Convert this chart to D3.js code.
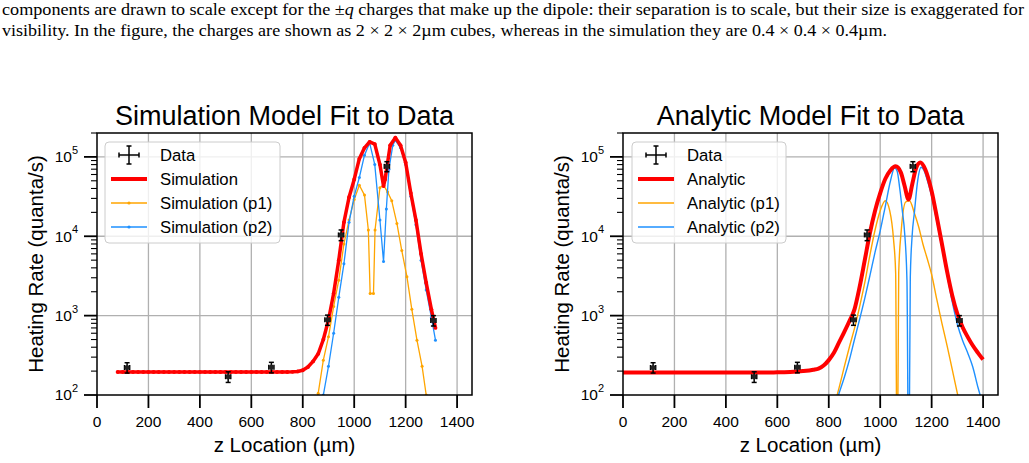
<!DOCTYPE html>
<html>
<head>
<meta charset="utf-8">
<script src="https://cdn.jsdelivr.net/npm/d3@7"></script>
<style>
    html, body { margin: 0; padding: 0; background: #fff; }
    svg { display: block; }
    text { font-family: "Liberation Sans", Arial, sans-serif; fill: #000; }
    .caption { font-family: "Liberation Serif", "Times New Roman", serif; font-size: 16.5px; }
</style>
</head>
<body>
<svg id="chart" width="1029" height="463"></svg>
<script>
// ticks
var xTicks = [0, 200, 400, 600, 800, 1000, 1200, 1400];
var yTickExps = [2, 3, 4, 5];

// measured data (same in both panels)
var dataZ = [117, 510, 678, 896, 949, 1127, 1308];
var dataRate = [222, 170, 224, 885, 10400, 76000, 870];
var dataZErr = [10, 10, 10, 10, 10, 10, 10];
var dataRateErr = [33, 26, 34, 130, 1600, 11000, 130];

// simulation model
var simZ = [80, 100, 120, 140, 160, 180, 200, 220, 240, 260, 280, 300, 320, 340, 360, 380, 400, 420, 440, 460,
    480, 500, 520, 540, 560, 580, 600, 620, 640, 660, 680, 700, 720, 740, 760, 780, 800, 820, 840, 860, 880, 900,
    920, 940, 960, 980, 1000, 1020, 1040, 1060, 1080, 1100, 1114, 1120, 1140, 1160, 1180, 1200, 1220, 1240, 1260,
    1280, 1300, 1316];
var simRate = [195, 195, 195, 195, 195, 195, 195, 195, 195, 195, 195, 195, 195, 195, 195, 195, 195, 195, 195, 195,
    195, 195, 195, 195, 195, 195, 195, 195, 195, 195, 195, 195, 195, 195, 196, 198, 205, 225, 265, 330, 500, 880,
    1900, 5000, 15000, 31000, 52000, 95000, 130000, 155000, 145000, 80000, 43000, 52000, 140000, 175000, 140000,
    85000, 35000, 16000, 6000, 2600, 1200, 700];

var simP1Z = [840, 860, 880, 900, 920, 940, 960, 980, 1000, 1020, 1040, 1055, 1062, 1075, 1081, 1100, 1114, 1130,
    1146, 1166, 1185, 1205, 1224, 1244, 1264, 1280, 1300];
var simP1Rate = [40, 105, 275, 540, 1300, 2800, 8000, 16000, 29000, 44000, 33000, 12000, 1900, 1900, 12000, 41000,
    44000, 36000, 28000, 14500, 6600, 3100, 1200, 490, 230, 100, 40];

var simP2Z = [860, 880, 900, 920, 940, 960, 980, 1000, 1020, 1040, 1060, 1080, 1100, 1114, 1125, 1135, 1150, 1160,
    1180, 1200, 1220, 1240, 1260, 1280, 1300, 1316];
var simP2Rate = [50, 100, 230, 600, 1700, 4500, 15000, 32000, 55000, 105000, 150000, 80000, 16000, 4800, 22000,
    70000, 140000, 162000, 130000, 80000, 32000, 14000, 5000, 2100, 950, 490];

// analytic model
var anaZ = [0, 100, 200, 300, 400, 500, 600, 650, 700, 740, 760, 780, 800, 820, 840, 860, 880, 900, 920, 940, 960,
    980, 1000, 1020, 1040, 1060, 1080, 1095, 1110, 1125, 1140, 1156, 1175, 1200, 1220, 1240, 1260, 1280, 1300, 1320,
    1340, 1360, 1380, 1400];
var anaRate = [192, 192, 192, 192, 192, 192, 193, 195, 200, 208, 215, 235, 275, 340, 460, 620, 850, 1200, 2300,
    5000, 11000, 21000, 35000, 53000, 68000, 76000, 64000, 43000, 29000, 46000, 73000, 85000, 70000, 37000, 17500,
    8000, 3600, 1800, 1050, 720, 540, 420, 340, 280];

var anaP1Z = [820, 840, 860, 880, 900, 920, 940, 960, 980, 1000, 1020, 1037, 1052, 1060, 1066, 1072, 1082, 1099,
    1114, 1133, 1150, 1166, 1183, 1200, 1220, 1240, 1260, 1280, 1300, 1320];
var anaP1Rate = [70, 123, 224, 400, 690, 1300, 2600, 5800, 12000, 21000, 28000, 21000, 9000, 3500, 5, 3500, 12000,
    27000, 28000, 19500, 13000, 8000, 5200, 3300, 1600, 800, 420, 210, 105, 55];

var anaP2Z = [820, 840, 860, 880, 900, 920, 940, 960, 980, 1000, 1020, 1040, 1056, 1066, 1076, 1086, 1095, 1104,
    1111, 1117, 1124, 1133, 1146, 1159, 1170, 1180, 1200, 1220, 1240, 1260, 1280, 1300, 1320, 1340, 1360, 1380, 1400];
var anaP2Rate = [65, 105, 165, 275, 500, 900, 1650, 3200, 6300, 11700, 24000, 50000, 73000, 66000, 40000, 21000,
    11000, 2800, 5, 3000, 10000, 20000, 51000, 74000, 68000, 55000, 32000, 15500, 7200, 3300, 1500, 780, 490, 340,
    225, 125, 75];

var RED = "#ff0000", ORANGE = "#ffa500", BLUE = "#1e90ff";
var TOP = 133, BOTTOM = 395;

var svg = d3.select("#chart");

function zip(zs, vs) {
    return zs.map(function (z, i) { return { z: z, v: vs[i] }; });
}

function drawCaption() {
    var line1 = svg.append("text").attr("class", "caption")
        .attr("x", 2).attr("y", 15)
        .attr("textLength", 1022).attr("lengthAdjust", "spacingAndGlyphs");
    line1.append("tspan").text("components are drawn to scale except for the \u00b1");
    line1.append("tspan").attr("font-style", "italic").text("q");
    line1.append("tspan").text(" charges that make up the dipole: their separation is to scale, but their size is exaggerated for");

    svg.append("text").attr("class", "caption")
        .attr("x", 2).attr("y", 36)
        .attr("textLength", 885).attr("lengthAdjust", "spacingAndGlyphs")
        .text("visibility. In the figure, the charges are shown as 2 \u00d7 2 \u00d7 2\u00b5m cubes, whereas in the simulation they are 0.4 \u00d7 0.4 \u00d7 0.4\u00b5m.");
}

function drawPanel(cfg) {
    var x = d3.scaleLinear().domain([0, 1458]).range([cfg.left, cfg.right]);
    var y = d3.scaleLog().domain([100, 2e5]).range([BOTTOM, TOP]);
    var g = svg.append("g");
    var cx = (cfg.left + cfg.right) / 2;

    // grid
    g.append("g").selectAll("line").data(xTicks.slice(1)).enter().append("line")
        .attr("x1", function (d) { return x(d); }).attr("x2", function (d) { return x(d); })
        .attr("y1", TOP).attr("y2", BOTTOM)
        .attr("stroke", "#b0b0b0").attr("stroke-width", 1.3);
    g.append("g").selectAll("line").data(yTickExps.slice(1)).enter().append("line")
        .attr("x1", cfg.left).attr("x2", cfg.right)
        .attr("y1", function (d) { return y(Math.pow(10, d)); })
        .attr("y2", function (d) { return y(Math.pow(10, d)); })
        .attr("stroke", "#b0b0b0").attr("stroke-width", 1.3);

    var clipId = "clip-" + cfg.name;
    svg.append("clipPath").attr("id", clipId).append("rect")
        .attr("x", cfg.left).attr("y", TOP)
        .attr("width", cfg.right - cfg.left).attr("height", BOTTOM - TOP);
    var plot = g.append("g").attr("clip-path", "url(#" + clipId + ")");

    var line = d3.line()
        .x(function (d) { return x(d.z); })
        .y(function (d) { return y(Math.max(d.v, 1)); })
        .curve(cfg.markers ? d3.curveLinear : d3.curveMonotoneX);

    // models: p1, p2 under the total
    cfg.series.forEach(function (s) {
        var pts = zip(s.z, s.v);
        plot.append("path").datum(pts)
            .attr("d", line)
            .attr("fill", "none")
            .attr("stroke", s.color)
            .attr("stroke-width", s.width)
            .attr("stroke-linejoin", "round");
        if (cfg.markers) {
            plot.append("g").selectAll("circle").data(pts).enter().append("circle")
                .attr("cx", function (d) { return x(d.z); })
                .attr("cy", function (d) { return y(Math.max(d.v, 1)); })
                .attr("r", s.width > 2 ? 1.9 : 1.5)
                .attr("fill", s.color);
        }
    });

    // data with error bars
    var pts = dataZ.map(function (z, i) {
        return { z: z, v: dataRate[i], ze: dataZErr[i], ve: dataRateErr[i] };
    });
    var eb = plot.append("g").attr("stroke", "#000").attr("stroke-width", 1.5);
    pts.forEach(function (d) {
        var px = x(d.z), py = y(d.v);
        var yl = y(d.v - d.ve), yh = y(d.v + d.ve);
        var xl = x(d.z - d.ze), xh = x(d.z + d.ze);
        eb.append("line").attr("x1", px).attr("x2", px).attr("y1", yl).attr("y2", yh);
        eb.append("line").attr("x1", px - 2.5).attr("x2", px + 2.5).attr("y1", yl).attr("y2", yl);
        eb.append("line").attr("x1", px - 2.5).attr("x2", px + 2.5).attr("y1", yh).attr("y2", yh);
        eb.append("line").attr("x1", xl).attr("x2", xh).attr("y1", py).attr("y2", py);
        eb.append("line").attr("x1", xl).attr("x2", xl).attr("y1", py - 2.5).attr("y2", py + 2.5);
        eb.append("line").attr("x1", xh).attr("x2", xh).attr("y1", py - 2.5).attr("y2", py + 2.5);
        plot.append("circle").attr("cx", px).attr("cy", py).attr("r", 2.6).attr("fill", "#222");
    });

    // spines
    g.append("rect")
        .attr("x", cfg.left).attr("y", TOP)
        .attr("width", cfg.right - cfg.left).attr("height", BOTTOM - TOP)
        .attr("fill", "none").attr("stroke", "#000").attr("stroke-width", 1.5);

    // x ticks
    var xt = g.append("g");
    xTicks.forEach(function (t) {
        xt.append("line").attr("x1", x(t)).attr("x2", x(t)).attr("y1", BOTTOM).attr("y2", BOTTOM + 13)
            .attr("stroke", "#000").attr("stroke-width", 1.8);
        xt.append("text").attr("x", x(t)).attr("y", 427).attr("text-anchor", "middle")
            .attr("font-size", "15.5px").text(t);
    });

    // y ticks
    var yt = g.append("g");
    y.ticks().forEach(function (t) {
        var e = Math.log10(t);
        if (Math.abs(e - Math.round(e)) < 1e-9) return;
        yt.append("line").attr("x1", cfg.left - 6).attr("x2", cfg.left)
            .attr("y1", y(t)).attr("y2", y(t))
            .attr("stroke", "#000").attr("stroke-width", 1.1);
    });
    yTickExps.forEach(function (e) {
        var py = y(Math.pow(10, e));
        yt.append("line").attr("x1", cfg.left - 13).attr("x2", cfg.left)
            .attr("y1", py).attr("y2", py)
            .attr("stroke", "#000").attr("stroke-width", 1.8);
        var lab = yt.append("text").attr("x", cfg.left - 19).attr("y", py)
            .attr("dy", "0.35em").attr("text-anchor", "end").attr("font-size", "15.5px");
        lab.append("tspan").text("10");
        lab.append("tspan").attr("font-size", "11px").attr("dy", "-0.75em").text(e);
    });

    // labels
    g.append("text").attr("x", cx).attr("y", 125).attr("text-anchor", "middle")
        .attr("font-size", "27px").text(cfg.title);
    g.append("text").attr("x", cx).attr("y", 452).attr("text-anchor", "middle")
        .attr("font-size", "20.5px").text("z Location (\u00b5m)");
    g.append("text")
        .attr("transform", "translate(" + (cfg.left - 61) + "," + ((TOP + BOTTOM) / 2) + ") rotate(-90)")
        .attr("text-anchor", "middle").attr("dy", "0.35em")
        .attr("font-size", "20.5px").text("Heating Rate (quanta/s)");

    drawLegend(g, cfg);
}

function drawLegend(g, cfg) {
    var bx = cfg.legendX, by = 142;
    var lg = g.append("g");
    lg.append("rect").attr("x", bx).attr("y", by).attr("width", cfg.legendW).attr("height", 101)
        .attr("rx", 4).attr("fill", "#fff").attr("fill-opacity", 0.8)
        .attr("stroke", "#cccccc").attr("stroke-width", 1);

    var rows = [155, 179, 203, 227];
    var h0 = bx + 6, h1 = bx + 42, hc = (h0 + h1) / 2;

    // data entry: error bar cross
    var cr = lg.append("g").attr("stroke", "#000").attr("stroke-width", 1.5);
    cr.append("line").attr("x1", hc - 10).attr("x2", hc + 10).attr("y1", rows[0]).attr("y2", rows[0]);
    cr.append("line").attr("x1", hc - 10).attr("x2", hc - 10).attr("y1", rows[0] - 2.5).attr("y2", rows[0] + 2.5);
    cr.append("line").attr("x1", hc + 10).attr("x2", hc + 10).attr("y1", rows[0] - 2.5).attr("y2", rows[0] + 2.5);
    cr.append("line").attr("x1", hc).attr("x2", hc).attr("y1", rows[0] - 9).attr("y2", rows[0] + 9);
    cr.append("line").attr("x1", hc - 2.5).attr("x2", hc + 2.5).attr("y1", rows[0] - 9).attr("y2", rows[0] - 9);
    cr.append("line").attr("x1", hc - 2.5).attr("x2", hc + 2.5).attr("y1", rows[0] + 9).attr("y2", rows[0] + 9);

    var entries = [cfg.series[2], cfg.series[0], cfg.series[1]];
    entries.forEach(function (s, i) {
        var ry = rows[i + 1];
        lg.append("line").attr("x1", h0).attr("x2", h1).attr("y1", ry).attr("y2", ry)
            .attr("stroke", s.color).attr("stroke-width", s.width > 2 ? 4 : 1.6);
        if (cfg.markers) {
            lg.append("circle").attr("cx", hc).attr("cy", ry).attr("r", s.width > 2 ? 2 : 1.6).attr("fill", s.color);
        }
    });

    var labels = ["Data"].concat(entries.map(function (s) { return s.label; }));
    labels.forEach(function (t, i) {
        lg.append("text").attr("x", bx + 55).attr("y", rows[i]).attr("dy", "0.35em")
            .attr("font-size", "16.7px").text(t);
    });
}

drawCaption();

drawPanel({
    name: "sim", left: 97, right: 472, markers: true,
    title: "Simulation Model Fit to Data",
    legendX: 105, legendW: 175,
    series: [
        { z: simP1Z, v: simP1Rate, color: ORANGE, width: 1.3, label: "Simulation (p1)" },
        { z: simP2Z, v: simP2Rate, color: BLUE, width: 1.3, label: "Simulation (p2)" },
        { z: simZ, v: simRate, color: RED, width: 3.5, label: "Simulation" }
    ]
});

drawPanel({
    name: "ana", left: 623, right: 998, markers: false,
    title: "Analytic Model Fit to Data",
    legendX: 632, legendW: 154,
    series: [
        { z: anaP1Z, v: anaP1Rate, color: ORANGE, width: 1.4, label: "Analytic (p1)" },
        { z: anaP2Z, v: anaP2Rate, color: BLUE, width: 1.4, label: "Analytic (p2)" },
        { z: anaZ, v: anaRate, color: RED, width: 4, label: "Analytic" }
    ]
});
</script>
</body>
</html>
